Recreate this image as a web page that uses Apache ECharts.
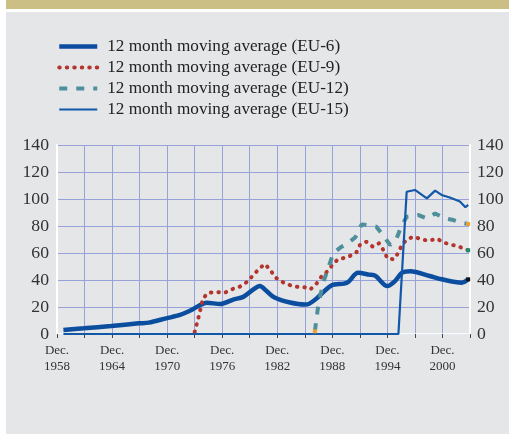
<!DOCTYPE html>
<html>
<head>
<meta charset="utf-8">
<script src="https://cdn.jsdelivr.net/npm/echarts@6/dist/echarts.min.js"></script>
<style>
    html, body { margin: 0; padding: 0; background: #ffffff; }
    #band { position: absolute; left: 6px; top: 0; width: 503px; height: 9px; background: #cbbf86; }
    #panel { position: absolute; left: 6px; top: 12px; width: 503px; height: 422px; background: #e5e6e8; }
    #chart { position: absolute; left: 0; top: 0; width: 509px; height: 434px; }
</style>
</head>
<body>
<div id="band"></div>
<div id="panel"></div>
<div id="chart"></div>
<script>
// 起点年份（Dec. 1958）
const BASE_YEAR = 1958;

// 刻度标签（每6年一个）
const tickYears = [1958, 1964, 1970, 1976, 1982, 1988, 1994, 2000];

// EU-6（粗实线）
const eu6Years = [1958.7, 1960.9, 1963.9, 1966.9, 1968.0, 1969.9, 1971.4, 1972.8, 1973.6, 1974.3,
    1975.8, 1977.2, 1978.3, 1979.4, 1980.1, 1980.8, 1981.7, 1983.4, 1985.0, 1985.5,
    1986.3, 1987.9, 1989.6, 1990.8, 1992.0, 1992.7, 1994.0, 1994.8, 1995.6, 1996.5,
    1998.6, 1999.9, 2002.1, 2002.8];
const eu6Values = [3.0, 4.2, 5.9, 7.9, 8.4, 11.6, 14.1, 18.3, 21.5, 23.2,
    22.2, 25.5, 27.5, 33, 35.5, 32, 27, 23.3, 21.8, 22.5,
    26.4, 36, 38, 45.4, 44, 43, 35.5, 39, 45.4, 46.5,
    43, 40.5, 38, 40.5];

// EU-9（红色点线）
const eu9Years = [1973.0, 1973.5, 1973.9, 1974.5, 1975.4, 1976.3, 1977.0, 1977.9, 1978.7, 1979.9,
    1980.6, 1981.2, 1981.7, 1982.4, 1983.2, 1984.1, 1985.0, 1985.6, 1986.3, 1986.8,
    1987.5, 1988.0, 1988.6, 1989.6, 1990.6, 1991.0, 1991.7, 1992.4, 1993.1, 1993.6,
    1994.0, 1994.7, 1995.2, 1995.6, 1996.2, 1996.9, 1997.7, 1998.5, 1999.4, 2000.2,
    2001.0, 2001.8, 2002.8];
const eu9Values = [1.5, 14.5, 26.4, 30.6, 31.1, 30.6, 33, 35, 38.5, 47.4,
    51.8, 48.1, 42.4, 39, 36.5, 35, 34.6, 33, 37.5, 42.4,
    46.7, 51.1, 55.3, 56.8, 60.2, 65.9, 68.4, 64.7, 67.2, 61.7,
    56, 55.3, 60.2, 66.4, 70.4, 72.1, 70.1, 69.1, 70.6, 67.6,
    66.1, 64.7, 62];

// EU-12（青色虚线）
const eu12Years = [1986.1, 1986.4, 1986.7, 1987.1, 1987.6, 1988.1, 1988.9, 1989.6, 1990.5, 1991.2,
    1991.9, 1992.8, 1993.5, 1994.3, 1995.0, 1995.5, 1996.1, 1997.4, 1998.3, 1999.2,
    2000.3, 2001.2, 2002.1, 2002.8];
const eu12Values = [2, 17.8, 28.9, 40, 49.9, 59.8, 64.2, 66.7, 71.6, 81.2,
    80.7, 79.5, 73.3, 65.9, 70.8, 79.5, 86.9, 88.1, 85.6, 89.3,
    85.6, 84.4, 82.4, 81.5];

// EU-15（细实线）
const eu15Years = [1958.7, 1995.2, 1996.1, 1997.0, 1998.3, 1999.2, 1999.9, 2000.8, 2001.9, 2002.5, 2002.8];
const eu15Values = [0, 0, 105.4, 106.7, 100.5, 106.2, 103, 101.1, 98.1, 93.9, 95.6];

const FONT = "'Liberation Serif', 'DejaVu Serif', serif";

function toPoints(years, values) {
    return years.map((y, i) => [y - BASE_YEAR, values[i]]);
}

// 线端的小方块标记
function endMark(points, idx, color) {
    return {
        symbol: 'rect',
        symbolSize: 4,
        silent: true,
        label: { show: false },
        itemStyle: { color: color },
        data: idx.map(i => ({ coord: points[i] }))
    };
}

const eu6Points = toPoints(eu6Years, eu6Values);
const eu9Points = toPoints(eu9Years, eu9Values);
const eu12Points = toPoints(eu12Years, eu12Values);
const eu15Points = toPoints(eu15Years, eu15Values);

const chart = echarts.init(document.getElementById('chart'));

const gridLine = { show: true, lineStyle: { color: '#97a2d8', width: 1 } };

const option = {
    animation: false,
    textStyle: { fontFamily: FONT },
    legend: {
        orient: 'vertical',
        left: 52,
        top: 33,
        itemWidth: 38,
        itemHeight: 14,
        itemGap: 4,
        // 隐藏图例中的圆点，只留线型
        itemStyle: { opacity: 0 },
        lineStyle: { width: 'inherit' },
        textStyle: { fontFamily: FONT, fontSize: 17.2, color: '#222', lineHeight: 17, padding: [0, 0, 0, 5] },
        data: ['12 month moving average (EU-6)', '12 month moving average (EU-9)',
            '12 month moving average (EU-12)', '12 month moving average (EU-15)']
    },
    grid: { left: 57, right: 39, top: 145, bottom: 100 },
    xAxis: {
        type: 'value',
        min: 0,
        max: 45,
        interval: 3,
        axisLine: { show: true, lineStyle: { color: '#ffffff', width: 1.5 } },
        axisTick: { show: true, length: 4, lineStyle: { color: '#444' } },
        splitLine: gridLine,
        axisLabel: {
            fontFamily: FONT,
            fontSize: 13,
            color: '#333',
            lineHeight: 16,
            margin: 9,
            formatter: v => {
                const yr = BASE_YEAR + v;
                return tickYears.includes(yr) ? 'Dec.\n' + yr : '';
            }
        }
    },
    yAxis: [
        {
            type: 'value', min: 0, max: 140, interval: 20, position: 'left',
            axisLine: { show: true, lineStyle: { color: '#ffffff', width: 2 } },
            axisTick: { show: false },
            splitLine: gridLine,
            axisLabel: { fontFamily: FONT, fontSize: 17.7, color: '#333', margin: 8 }
        },
        {
            type: 'value', min: 0, max: 140, interval: 20, position: 'right',
            axisLine: { show: true, lineStyle: { color: '#ffffff', width: 2 } },
            axisTick: { show: false },
            splitLine: { show: false },
            axisLabel: { fontFamily: FONT, fontSize: 17.7, color: '#333', margin: 7 }
        }
    ],
    series: [
        {
            name: '12 month moving average (EU-6)', type: 'line', symbol: 'none', smooth: 0.3,
            data: eu6Points,
            itemStyle: { color: '#0b4d9e' },
            lineStyle: { color: '#0b4d9e', width: 4.5 },
            markPoint: endMark(eu6Points, [eu6Points.length - 1], '#111111')
        },
        {
            name: '12 month moving average (EU-9)', type: 'line', symbol: 'none',
            data: eu9Points,
            itemStyle: { color: '#b3352d' },
            lineStyle: { color: '#b3352d', width: 4, type: [0.5, 7], cap: 'round' },
            markPoint: endMark(eu9Points, [eu9Points.length - 1], '#17906e')
        },
        {
            name: '12 month moving average (EU-12)', type: 'line', symbol: 'none',
            data: eu12Points,
            itemStyle: { color: '#4f8f9c' },
            lineStyle: { color: '#4f8f9c', width: 4, type: [8, 9] },
            markPoint: endMark(eu12Points, [0, eu12Points.length - 1], '#f0a02c')
        },
        {
            name: '12 month moving average (EU-15)', type: 'line', symbol: 'none',
            data: eu15Points,
            itemStyle: { color: '#1257a8' },
            lineStyle: { color: '#1257a8', width: 2.2 }
        }
    ]
};

chart.setOption(option);
</script>
</body>
</html>
